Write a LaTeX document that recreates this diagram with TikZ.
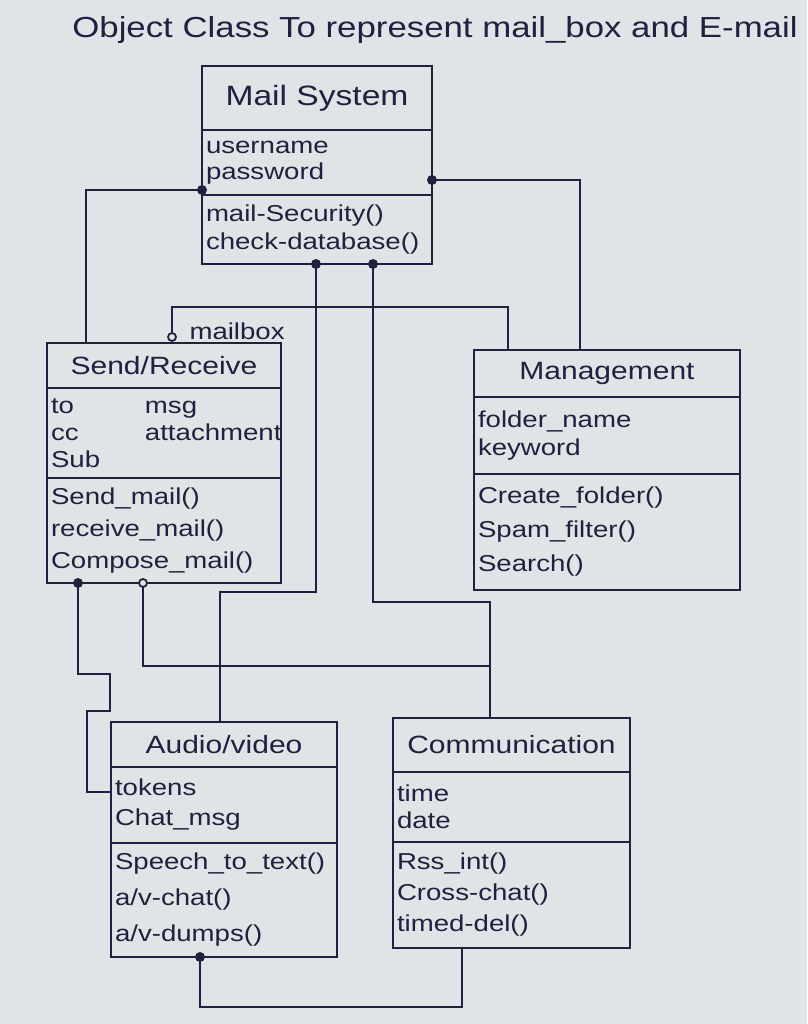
\documentclass[tikz,border=0pt]{standalone}
\usepackage{fontspec}
\setmainfont[FakeStretch=1.2]{Liberation Sans}
\usetikzlibrary{shapes,arrows,positioning,calc}
\definecolor{ink}{RGB}{30,34,62}
\definecolor{paper}{RGB}{224,228,230}
\newcommand{\headfont}{\fontsize{29}{34}\selectfont}
\newcommand{\namefont}{\fontsize{25}{30}\selectfont}
\newcommand{\partfont}{\fontsize{23}{30}\selectfont}
\tikzstyle{classbox} = [draw=ink, line width=2pt, inner sep=4pt, outer sep=0pt, text=ink]
\tikzstyle{classname} = [classbox, font=\namefont, align=center]
\tikzstyle{classpart} = [classbox, font=\partfont, align=left]
\tikzstyle{link} = [draw=ink, line width=1.8pt]
\tikzstyle{opendot} = [draw=ink, fill=paper, line width=1.8pt]

\begin{document}
\begin{tikzpicture}[x=1pt,y=-1pt]
	\fill[paper] (0,0) rectangle (807,1024);
	\useasboundingbox (0,0) rectangle (807,1024);
	\node[text=ink, font=\headfont] (heading) at (435,30) {Object Class To represent mail\_box and E-mail};

	\node[classname, anchor=north west, minimum width=230pt, minimum height=64pt, font=\fontsize{28}{30}\selectfont] (mailsys) at (202,66) {Mail System};
	\node[classpart, text width=222pt, minimum height=65pt, below=0pt of mailsys, font=\fontsize{23}{26}\selectfont] (mailsys-attr) {username\\password};
	\node[classpart, text width=222pt, minimum height=69pt, below=0pt of mailsys-attr, font=\fontsize{23}{28}\selectfont] (mailsys-ops) {mail-Security()\\check-database()};

	\node[classname, anchor=north west, minimum width=234pt, minimum height=45pt] (sendrecv) at (47,343) {Send/Receive};
	\node[classpart, text width=226pt, minimum height=90pt, below=0pt of sendrecv, font=\fontsize{23}{27}\selectfont] (sendrecv-attr) {\makebox[94pt][l]{to}msg\\\makebox[94pt][l]{cc}attachment\\Sub};
	\node[classpart, text width=226pt, minimum height=105pt, below=0pt of sendrecv-attr, font=\fontsize{23}{32}\selectfont] (sendrecv-ops) {Send\_mail()\\receive\_mail()\\Compose\_mail()};

	\node[classname, anchor=north west, minimum width=266pt, minimum height=47pt] (mgmt) at (474,350) {Management};
	\node[classpart, text width=258pt, minimum height=77pt, below=0pt of mgmt, font=\fontsize{23}{28}\selectfont] (mgmt-attr) {folder\_name\\keyword};
	\node[classpart, text width=258pt, minimum height=116pt, below=0pt of mgmt-attr, font=\fontsize{23}{34}\selectfont] (mgmt-ops) {Create\_folder()\\Spam\_filter()\\Search()};

	\node[classname, anchor=north west, minimum width=226pt, minimum height=45pt] (av) at (111,722) {Audio/video};
	\node[classpart, text width=218pt, minimum height=76pt, below=0pt of av] (av-attr) {tokens\\Chat\_msg};
	\node[classpart, text width=218pt, minimum height=114pt, below=0pt of av-attr, font=\fontsize{23}{36}\selectfont] (av-ops) {Speech\_to\_text()\\a/v-chat()\\a/v-dumps()};

	\node[classname, anchor=north west, minimum width=237pt, minimum height=54pt] (comm) at (393,718) {Communication};
	\node[classpart, text width=229pt, minimum height=70pt, below=0pt of comm, font=\fontsize{23}{27}\selectfont] (comm-attr) {time\\date};
	\node[classpart, text width=229pt, minimum height=106pt, below=0pt of comm-attr, font=\fontsize{23}{31}\selectfont] (comm-ops) {Rss\_int()\\Cross-chat()\\timed-del()};

	\coordinate (ms-left) at ($(mailsys-ops.north west)+(0,-5)$);
	\coordinate (ms-right) at ($(mailsys-ops.north east)+(0,-15)$);
	\coordinate (ms-b1) at ($(mailsys-ops.south west)+(114,0)$);
	\coordinate (ms-b2) at ($(mailsys-ops.south west)+(171,0)$);
	\coordinate (sr-top) at ($(sendrecv.north west)+(39,0)$);
	\coordinate (mbox) at ($(sendrecv.north west)+(125,-6)$);
	\coordinate (sr-b1) at ($(sendrecv-ops.south west)+(31,0)$);
	\coordinate (sr-b2) at ($(sendrecv-ops.south west)+(96,0)$);
	\coordinate (mg-top1) at ($(mgmt.north west)+(34,0)$);
	\coordinate (mg-top2) at ($(mgmt.north west)+(106,0)$);
	\coordinate (av-top) at ($(av.north west)+(109,0)$);
	\coordinate (av-side) at ($(av-attr.west)+(0,-13)$);
	\coordinate (av-bot) at ($(av-ops.south west)+(89,0)$);
	\coordinate (cm-top) at ($(comm.north west)+(97,0)$);
	\coordinate (cm-bot) at ($(comm-ops.south west)+(69,0)$);

	\draw[link] (ms-left) -| (sr-top);
	\draw[link] (ms-right) -| (mg-top2);
	\draw[link] (ms-b1) -- ++(0,328) -| (av-top);
	\draw[link] (ms-b2) -- ++(0,338) -| (cm-top);
	\draw[link] (sr-b2) -- ++(0,83) -| (cm-top);
	\draw[link] (sr-b1) -- ++(0,91) -- ++(32,0) -- ++(0,37) -- ++(-23,0) |- (av-side);
	\draw[link] (mbox) -- ++(0,-30) -| (mg-top1);
	\draw[link] (av-bot) -- ++(0,50) -| (cm-bot);

	\fill[ink] (ms-left) circle (5pt);
	\fill[ink] (ms-right) circle (5pt);
	\fill[ink] (ms-b1) circle (5pt);
	\fill[ink] (ms-b2) circle (5pt);
	\fill[ink] (sr-b1) circle (5pt);
	\fill[ink] (av-bot) circle (5pt);
	\filldraw[opendot] (sr-b2) circle (4pt);
	\filldraw[opendot] (mbox) circle (4pt);
	\node[text=ink, font=\partfont, anchor=west] (mbox-label) at ($(mbox)+(14,-6)$) {mailbox};
\end{tikzpicture}
\end{document}
